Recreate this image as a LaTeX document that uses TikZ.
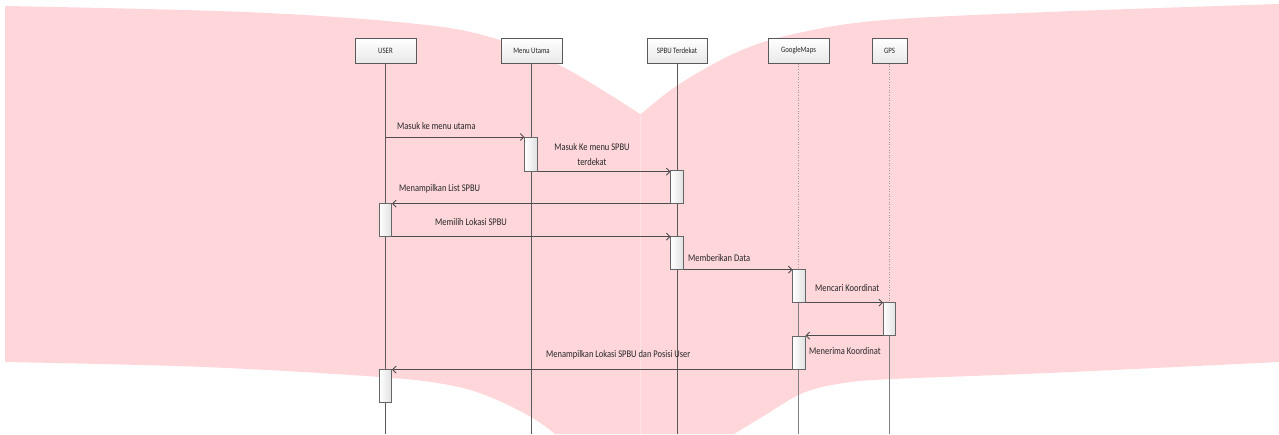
\documentclass[tikz,border=0pt]{standalone}
\usepackage{fontspec}
\setmainfont[FakeStretch=0.83]{Carlito}
\usetikzlibrary{arrows.meta,calc,shadows}
\definecolor{pinkbg}{RGB}{255,215,219}
\begin{document}
\begin{tikzpicture}[x=1pt,y=-1pt,
  head/.style={draw=black!65, line width=0.7pt, top color=white, bottom color=black!9,
    minimum width=#1, minimum height=25pt, inner sep=0pt, anchor=north,
    font=\fontsize{8.2}{9}\selectfont, text=black!85,
    drop shadow={shadow xshift=0.8pt, shadow yshift=-0.8pt, opacity=0.35}},
  act/.style={draw=black!60, line width=0.6pt, left color=white, right color=black!12,
    minimum width=12.5pt, minimum height=#1, inner sep=0pt, anchor=north},
  msg/.style={draw=black!70, line width=0.9pt, -{Straight Barb[length=3.5pt,width=7pt]}},
  lbl/.style={font=\fontsize{10.2}{15}\selectfont, text=black!85, inner sep=0pt},
  life/.style={draw=black!65, line width=0.5pt},
  dlife/.style={draw=black!40, line width=0.6pt, dotted}
]
\useasboundingbox (0,0) rectangle (1279,434);
% background watermark shape
\fill[pinkbg] plot[smooth, tension=0.6] coordinates {(5,6) (245,12) (408,23) (490,37) (563,67) (640,114)}
  -- plot[smooth, tension=0.6] coordinates {(641,114) (681,83) (742,50) (803,32) (885,20) (1048,12) (1279,4)}
  -- (1279,362)
  -- plot[smooth, tension=0.6] coordinates {(1279,362) (1048,373) (893,379) (844,383) (803,393) (762,417) (734,434)}
  -- (555,434)
  -- plot[smooth, tension=0.6] coordinates {(555,434) (531,417) (490,397) (449,385) (380,377) (204,367) (5,362)}
  -- cycle;
\draw[white, opacity=0.35, line width=0.8pt] (640.5,116) -- (640.5,434);

% header boxes
\node[head=61pt] (user) at (385.5,38) {USER};
\node[head=61pt] (menu) at (531.5,38) {Menu Utama};
\node[head=60pt] (spbu) at (677,38) {SPBU Terdekat};
\node[head=61pt] (gmap) at (798.5,38) {GoogleMaps};
\node[head=35pt] (gps) at (889.5,38) {GPS};

% lifeline ends
\coordinate (userE) at (385.5,434);
\coordinate (menuE) at (531.5,434);
\coordinate (spbuE) at (677,434);
\coordinate (gmapE) at (798.5,434);
\coordinate (gpsE) at (889.5,434);

\draw[life] (user.south) -- (userE);
\draw[life] (menu.south) -- (menuE);
\draw[life] (spbu.south) -- (spbuE);
\draw[dlife] (gmap.south) -- (798.5,269);
\draw[life, draw=black!50] (798.5,302) -- (gmapE);
\draw[dlife] (gps.south) -- (889.5,302);
\draw[life, draw=black!50] (889.5,335) -- (gpsE);

% activations
\node[act=34pt] (mu1) at (531,137) {};
\node[act=33pt] (sp1) at (677,170) {};
\node[act=33pt] (us1) at (385.5,203) {};
\node[act=33pt] (sp2) at (677,236) {};
\node[act=33pt] (gm1) at (799,269) {};
\node[act=33pt] (gp1) at (889.5,302) {};
\node[act=33pt] (gm2) at (799,336) {};
\node[act=33pt] (us2) at (385.5,369) {};

% messages
\draw[msg] (mu1.north west -| user.south) -- (mu1.north west);
\draw[msg] (mu1.south east) -- (mu1.south east -| sp1.west);
\draw[msg] (sp1.south west) -- (sp1.south west -| us1.east);
\draw[msg] (us1.south east) -- (us1.south east -| sp2.west);
\draw[msg] (sp2.south east) -- (sp2.south east -| gm1.west);
\draw[msg] (gm1.south east) -- (gm1.south east -| gp1.west);
\draw[msg] (gp1.south west) -- (gp1.south west -| gm2.east);
\draw[msg] (gm2.south west) -- (gm2.south west -| us2.east);

% labels
\node[lbl, anchor=west] (l1) at (397,126) {Masuk ke menu utama};
\node[lbl, align=center] (l2) at (592,154.5) {Masuk Ke menu SPBU\\terdekat};
\node[lbl, anchor=west] (l3) at (399,189) {Menampilkan List SPBU};
\node[lbl, anchor=west] (l4) at (435,222) {Memilih Lokasi SPBU};
\node[lbl, anchor=west] (l5) at (688,258) {Memberikan Data};
\node[lbl, anchor=west] (l6) at (815,288) {Mencari Koordinat};
\node[lbl, anchor=west] (l7) at (809,351) {Menerima Koordinat};
\node[lbl, anchor=west] (l8) at (546,355) {Menampilkan Lokasi SPBU dan Posisi User};
\end{tikzpicture}
\end{document}
